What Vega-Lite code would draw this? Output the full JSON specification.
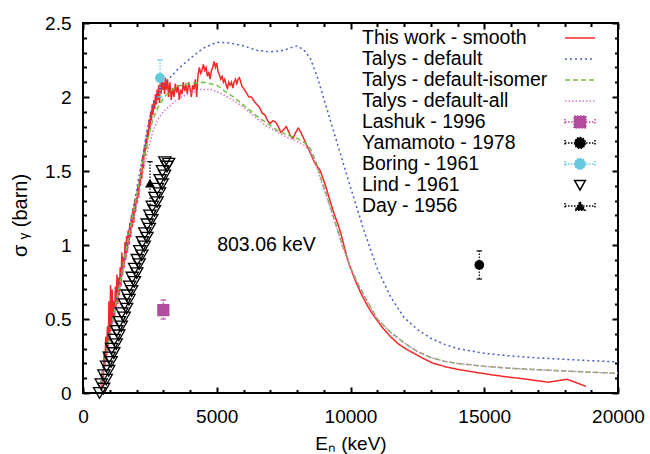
{
  "$schema": "https://vega.github.io/schema/vega-lite/v6.json",
  "width": 535,
  "height": 370,
  "autosize": "none",
  "padding": {"left": 83, "top": 23, "right": 32, "bottom": 61},
  "background": "white",
  "datasets": {
    "curves": [
      {"s":"This work - smooth","x":700,"y":0.02},{"s":"This work - smooth","x":730,"y":0.15},{"s":"This work - smooth","x":760,"y":0.08},{"s":"This work - smooth","x":790,"y":0.28},{"s":"This work - smooth","x":820,"y":0.18},{"s":"This work - smooth","x":850,"y":0.38},{"s":"This work - smooth","x":880,"y":0.22},{"s":"This work - smooth","x":910,"y":0.45},{"s":"This work - smooth","x":940,"y":0.3},{"s":"This work - smooth","x":970,"y":0.62},{"s":"This work - smooth","x":1000,"y":0.35},{"s":"This work - smooth","x":1030,"y":0.73},{"s":"This work - smooth","x":1060,"y":0.42},{"s":"This work - smooth","x":1090,"y":0.7},{"s":"This work - smooth","x":1120,"y":0.48},{"s":"This work - smooth","x":1150,"y":0.62},{"s":"This work - smooth","x":1180,"y":0.5},{"s":"This work - smooth","x":1210,"y":0.72},{"s":"This work - smooth","x":1240,"y":0.58},{"s":"This work - smooth","x":1270,"y":0.8},{"s":"This work - smooth","x":1300,"y":0.6},{"s":"This work - smooth","x":1330,"y":0.78},{"s":"This work - smooth","x":1360,"y":0.66},{"s":"This work - smooth","x":1390,"y":0.85},{"s":"This work - smooth","x":1420,"y":0.72},{"s":"This work - smooth","x":1450,"y":0.95},{"s":"This work - smooth","x":1480,"y":0.8},{"s":"This work - smooth","x":1510,"y":0.92},{"s":"This work - smooth","x":1540,"y":0.85},{"s":"This work - smooth","x":1570,"y":1.02},{"s":"This work - smooth","x":1600,"y":0.9},{"s":"This work - smooth","x":1630,"y":1.06},{"s":"This work - smooth","x":1660,"y":0.95},{"s":"This work - smooth","x":1690,"y":1.1},{"s":"This work - smooth","x":1720,"y":1.0},{"s":"This work - smooth","x":1750,"y":1.15},{"s":"This work - smooth","x":1780,"y":1.05},{"s":"This work - smooth","x":1810,"y":1.2},{"s":"This work - smooth","x":1840,"y":1.12},{"s":"This work - smooth","x":1870,"y":1.25},{"s":"This work - smooth","x":1900,"y":1.15},{"s":"This work - smooth","x":1930,"y":1.3},{"s":"This work - smooth","x":1960,"y":1.22},{"s":"This work - smooth","x":1990,"y":1.32},{"s":"This work - smooth","x":2020,"y":1.28},{"s":"This work - smooth","x":2050,"y":1.4},{"s":"This work - smooth","x":2080,"y":1.32},{"s":"This work - smooth","x":2110,"y":1.45},{"s":"This work - smooth","x":2140,"y":1.4},{"s":"This work - smooth","x":2170,"y":1.52},{"s":"This work - smooth","x":2200,"y":1.45},{"s":"This work - smooth","x":2230,"y":1.6},{"s":"This work - smooth","x":2260,"y":1.52},{"s":"This work - smooth","x":2290,"y":1.66},{"s":"This work - smooth","x":2320,"y":1.6},{"s":"This work - smooth","x":2350,"y":1.72},{"s":"This work - smooth","x":2380,"y":1.65},{"s":"This work - smooth","x":2410,"y":1.78},{"s":"This work - smooth","x":2440,"y":1.72},{"s":"This work - smooth","x":2470,"y":1.85},{"s":"This work - smooth","x":2500,"y":1.78},{"s":"This work - smooth","x":2530,"y":1.9},{"s":"This work - smooth","x":2560,"y":1.84},{"s":"This work - smooth","x":2590,"y":1.95},{"s":"This work - smooth","x":2620,"y":1.88},{"s":"This work - smooth","x":2650,"y":1.98},{"s":"This work - smooth","x":2680,"y":1.92},{"s":"This work - smooth","x":2710,"y":2.02},{"s":"This work - smooth","x":2740,"y":1.95},{"s":"This work - smooth","x":2770,"y":2.05},{"s":"This work - smooth","x":2800,"y":1.98},{"s":"This work - smooth","x":2830,"y":2.08},{"s":"This work - smooth","x":2860,"y":1.96},{"s":"This work - smooth","x":2890,"y":2.1},{"s":"This work - smooth","x":2920,"y":2.02},{"s":"This work - smooth","x":2950,"y":2.12},{"s":"This work - smooth","x":2980,"y":2.05},{"s":"This work - smooth","x":3010,"y":2.1},{"s":"This work - smooth","x":3050,"y":2.02},{"s":"This work - smooth","x":3080,"y":2.13},{"s":"This work - smooth","x":3120,"y":2.05},{"s":"This work - smooth","x":3160,"y":2.12},{"s":"This work - smooth","x":3200,"y":2.0},{"s":"This work - smooth","x":3250,"y":2.1},{"s":"This work - smooth","x":3300,"y":1.98},{"s":"This work - smooth","x":3350,"y":2.06},{"s":"This work - smooth","x":3400,"y":2.0},{"s":"This work - smooth","x":3450,"y":2.09},{"s":"This work - smooth","x":3500,"y":2.03},{"s":"This work - smooth","x":3550,"y":2.08},{"s":"This work - smooth","x":3600,"y":1.98},{"s":"This work - smooth","x":3650,"y":2.05},{"s":"This work - smooth","x":3700,"y":2.02},{"s":"This work - smooth","x":3750,"y":2.1},{"s":"This work - smooth","x":3800,"y":2.04},{"s":"This work - smooth","x":3850,"y":2.08},{"s":"This work - smooth","x":3900,"y":2.02},{"s":"This work - smooth","x":3950,"y":2.1},{"s":"This work - smooth","x":4000,"y":2.06},{"s":"This work - smooth","x":4050,"y":2.0},{"s":"This work - smooth","x":4100,"y":2.08},{"s":"This work - smooth","x":4150,"y":2.05},{"s":"This work - smooth","x":4200,"y":2.12},{"s":"This work - smooth","x":4250,"y":2.0},{"s":"This work - smooth","x":4300,"y":2.15},{"s":"This work - smooth","x":4350,"y":2.2},{"s":"This work - smooth","x":4400,"y":2.16},{"s":"This work - smooth","x":4450,"y":2.18},{"s":"This work - smooth","x":4500,"y":2.22},{"s":"This work - smooth","x":4550,"y":2.18},{"s":"This work - smooth","x":4600,"y":2.2},{"s":"This work - smooth","x":4650,"y":2.14},{"s":"This work - smooth","x":4700,"y":2.17},{"s":"This work - smooth","x":4750,"y":2.12},{"s":"This work - smooth","x":4800,"y":2.18},{"s":"This work - smooth","x":4850,"y":2.2},{"s":"This work - smooth","x":4900,"y":2.24},{"s":"This work - smooth","x":4950,"y":2.2},{"s":"This work - smooth","x":5000,"y":2.23},{"s":"This work - smooth","x":5050,"y":2.17},{"s":"This work - smooth","x":5100,"y":2.15},{"s":"This work - smooth","x":5150,"y":2.12},{"s":"This work - smooth","x":5200,"y":2.14},{"s":"This work - smooth","x":5250,"y":2.1},{"s":"This work - smooth","x":5300,"y":2.12},{"s":"This work - smooth","x":5350,"y":2.08},{"s":"This work - smooth","x":5400,"y":2.06},{"s":"This work - smooth","x":5450,"y":2.1},{"s":"This work - smooth","x":5500,"y":2.08},{"s":"This work - smooth","x":5550,"y":2.1},{"s":"This work - smooth","x":5600,"y":2.06},{"s":"This work - smooth","x":5650,"y":2.1},{"s":"This work - smooth","x":5700,"y":2.12},{"s":"This work - smooth","x":5750,"y":2.09},{"s":"This work - smooth","x":5800,"y":2.12},{"s":"This work - smooth","x":5850,"y":2.13},{"s":"This work - smooth","x":5900,"y":2.1},{"s":"This work - smooth","x":5950,"y":2.07},{"s":"This work - smooth","x":6000,"y":2.06},{"s":"This work - smooth","x":6100,"y":2.03},{"s":"This work - smooth","x":6200,"y":2.0},{"s":"This work - smooth","x":6300,"y":2.0},{"s":"This work - smooth","x":6400,"y":1.97},{"s":"This work - smooth","x":6500,"y":1.95},{"s":"This work - smooth","x":6600,"y":1.93},{"s":"This work - smooth","x":6700,"y":1.89},{"s":"This work - smooth","x":6800,"y":1.88},{"s":"This work - smooth","x":6900,"y":1.84},{"s":"This work - smooth","x":7000,"y":1.82},{"s":"This work - smooth","x":7100,"y":1.84},{"s":"This work - smooth","x":7200,"y":1.83},{"s":"This work - smooth","x":7300,"y":1.8},{"s":"This work - smooth","x":7400,"y":1.76},{"s":"This work - smooth","x":7500,"y":1.78},{"s":"This work - smooth","x":7600,"y":1.8},{"s":"This work - smooth","x":7700,"y":1.76},{"s":"This work - smooth","x":7750,"y":1.74},{"s":"This work - smooth","x":7850,"y":1.72},{"s":"This work - smooth","x":7950,"y":1.76},{"s":"This work - smooth","x":8050,"y":1.79},{"s":"This work - smooth","x":8150,"y":1.76},{"s":"This work - smooth","x":8250,"y":1.72},{"s":"This work - smooth","x":8350,"y":1.68},{"s":"This work - smooth","x":8450,"y":1.64},{"s":"This work - smooth","x":8550,"y":1.6},{"s":"This work - smooth","x":8650,"y":1.56},{"s":"This work - smooth","x":8750,"y":1.53},{"s":"This work - smooth","x":8850,"y":1.51},{"s":"This work - smooth","x":8950,"y":1.46},{"s":"This work - smooth","x":9050,"y":1.41},{"s":"This work - smooth","x":9150,"y":1.35},{"s":"This work - smooth","x":9250,"y":1.29},{"s":"This work - smooth","x":9350,"y":1.23},{"s":"This work - smooth","x":9450,"y":1.18},{"s":"This work - smooth","x":9550,"y":1.13},{"s":"This work - smooth","x":9650,"y":1.07},{"s":"This work - smooth","x":9750,"y":1.0},{"s":"This work - smooth","x":9850,"y":0.93},{"s":"This work - smooth","x":9950,"y":0.87},{"s":"This work - smooth","x":10050,"y":0.82},{"s":"This work - smooth","x":10200,"y":0.75},{"s":"This work - smooth","x":10400,"y":0.67},{"s":"This work - smooth","x":10600,"y":0.6},{"s":"This work - smooth","x":10800,"y":0.54},{"s":"This work - smooth","x":11000,"y":0.49},{"s":"This work - smooth","x":11200,"y":0.44},{"s":"This work - smooth","x":11500,"y":0.38},{"s":"This work - smooth","x":11800,"y":0.33},{"s":"This work - smooth","x":12100,"y":0.295},{"s":"This work - smooth","x":12400,"y":0.265},{"s":"This work - smooth","x":12700,"y":0.235},{"s":"This work - smooth","x":13100,"y":0.2},{"s":"This work - smooth","x":13600,"y":0.175},{"s":"This work - smooth","x":14000,"y":0.16},{"s":"This work - smooth","x":14600,"y":0.142},{"s":"This work - smooth","x":15200,"y":0.125},{"s":"This work - smooth","x":15800,"y":0.11},{"s":"This work - smooth","x":16500,"y":0.095},{"s":"This work - smooth","x":17400,"y":0.073},{"s":"This work - smooth","x":18100,"y":0.093},{"s":"This work - smooth","x":18800,"y":0.045},
      {"s":"Talys - default","x":650,"y":0.07},{"s":"Talys - default","x":800,"y":0.22},{"s":"Talys - default","x":1000,"y":0.4},{"s":"Talys - default","x":1250,"y":0.64},{"s":"Talys - default","x":1500,"y":0.88},{"s":"Talys - default","x":1750,"y":1.12},{"s":"Talys - default","x":2000,"y":1.37},{"s":"Talys - default","x":2200,"y":1.57},{"s":"Talys - default","x":2400,"y":1.78},{"s":"Talys - default","x":2600,"y":1.94},{"s":"Talys - default","x":2800,"y":2.03},{"s":"Talys - default","x":3000,"y":2.08},{"s":"Talys - default","x":3250,"y":2.13},{"s":"Talys - default","x":3500,"y":2.18},{"s":"Talys - default","x":4000,"y":2.26},{"s":"Talys - default","x":4500,"y":2.33},{"s":"Talys - default","x":5000,"y":2.37},{"s":"Talys - default","x":5500,"y":2.365},{"s":"Talys - default","x":6000,"y":2.345},{"s":"Talys - default","x":6500,"y":2.315},{"s":"Talys - default","x":7000,"y":2.305},{"s":"Talys - default","x":7500,"y":2.315},{"s":"Talys - default","x":7800,"y":2.335},{"s":"Talys - default","x":8000,"y":2.345},{"s":"Talys - default","x":8250,"y":2.32},{"s":"Talys - default","x":8500,"y":2.26},{"s":"Talys - default","x":8750,"y":2.14},{"s":"Talys - default","x":9000,"y":1.99},{"s":"Talys - default","x":9250,"y":1.84},{"s":"Talys - default","x":9500,"y":1.69},{"s":"Talys - default","x":9750,"y":1.54},{"s":"Talys - default","x":10000,"y":1.39},{"s":"Talys - default","x":10500,"y":1.1},{"s":"Talys - default","x":11000,"y":0.84},{"s":"Talys - default","x":11500,"y":0.65},{"s":"Talys - default","x":12000,"y":0.51},{"s":"Talys - default","x":12500,"y":0.43},{"s":"Talys - default","x":13000,"y":0.37},{"s":"Talys - default","x":13500,"y":0.33},{"s":"Talys - default","x":14000,"y":0.3},{"s":"Talys - default","x":15000,"y":0.268},{"s":"Talys - default","x":16000,"y":0.25},{"s":"Talys - default","x":17000,"y":0.237},{"s":"Talys - default","x":18000,"y":0.228},{"s":"Talys - default","x":19000,"y":0.218},{"s":"Talys - default","x":20000,"y":0.21},
      {"s":"Talys - default-isomer","x":650,"y":0.06},{"s":"Talys - default-isomer","x":800,"y":0.2},{"s":"Talys - default-isomer","x":1000,"y":0.39},{"s":"Talys - default-isomer","x":1250,"y":0.62},{"s":"Talys - default-isomer","x":1500,"y":0.86},{"s":"Talys - default-isomer","x":1750,"y":1.1},{"s":"Talys - default-isomer","x":2000,"y":1.33},{"s":"Talys - default-isomer","x":2200,"y":1.52},{"s":"Talys - default-isomer","x":2400,"y":1.7},{"s":"Talys - default-isomer","x":2600,"y":1.84},{"s":"Talys - default-isomer","x":2800,"y":1.93},{"s":"Talys - default-isomer","x":3000,"y":1.99},{"s":"Talys - default-isomer","x":3250,"y":2.04},{"s":"Talys - default-isomer","x":3500,"y":2.07},{"s":"Talys - default-isomer","x":3900,"y":2.09},{"s":"Talys - default-isomer","x":4500,"y":2.1},{"s":"Talys - default-isomer","x":5000,"y":2.08},{"s":"Talys - default-isomer","x":5300,"y":2.04},{"s":"Talys - default-isomer","x":5700,"y":1.99},{"s":"Talys - default-isomer","x":6100,"y":1.93},{"s":"Talys - default-isomer","x":6500,"y":1.87},{"s":"Talys - default-isomer","x":6900,"y":1.82},{"s":"Talys - default-isomer","x":7300,"y":1.77},{"s":"Talys - default-isomer","x":7700,"y":1.74},{"s":"Talys - default-isomer","x":8000,"y":1.72},{"s":"Talys - default-isomer","x":8300,"y":1.69},{"s":"Talys - default-isomer","x":8500,"y":1.65},{"s":"Talys - default-isomer","x":8700,"y":1.57},{"s":"Talys - default-isomer","x":8900,"y":1.45},{"s":"Talys - default-isomer","x":9100,"y":1.34},{"s":"Talys - default-isomer","x":9400,"y":1.17},{"s":"Talys - default-isomer","x":9700,"y":1.0},{"s":"Talys - default-isomer","x":10000,"y":0.85},{"s":"Talys - default-isomer","x":10300,"y":0.73},{"s":"Talys - default-isomer","x":10600,"y":0.63},{"s":"Talys - default-isomer","x":11000,"y":0.5},{"s":"Talys - default-isomer","x":11500,"y":0.41},{"s":"Talys - default-isomer","x":12000,"y":0.34},{"s":"Talys - default-isomer","x":12500,"y":0.28},{"s":"Talys - default-isomer","x":13000,"y":0.24},{"s":"Talys - default-isomer","x":13500,"y":0.215},{"s":"Talys - default-isomer","x":14000,"y":0.2},{"s":"Talys - default-isomer","x":15000,"y":0.18},{"s":"Talys - default-isomer","x":16000,"y":0.167},{"s":"Talys - default-isomer","x":17000,"y":0.157},{"s":"Talys - default-isomer","x":18000,"y":0.149},{"s":"Talys - default-isomer","x":19000,"y":0.14},{"s":"Talys - default-isomer","x":20000,"y":0.133},
      {"s":"Talys - default-all","x":650,"y":0.05},{"s":"Talys - default-all","x":800,"y":0.18},{"s":"Talys - default-all","x":1000,"y":0.36},{"s":"Talys - default-all","x":1250,"y":0.59},{"s":"Talys - default-all","x":1500,"y":0.82},{"s":"Talys - default-all","x":1750,"y":1.05},{"s":"Talys - default-all","x":2000,"y":1.27},{"s":"Talys - default-all","x":2200,"y":1.45},{"s":"Talys - default-all","x":2400,"y":1.62},{"s":"Talys - default-all","x":2600,"y":1.76},{"s":"Talys - default-all","x":2800,"y":1.85},{"s":"Talys - default-all","x":3000,"y":1.9},{"s":"Talys - default-all","x":3250,"y":1.94},{"s":"Talys - default-all","x":3500,"y":1.98},{"s":"Talys - default-all","x":3900,"y":2.02},{"s":"Talys - default-all","x":4400,"y":2.05},{"s":"Talys - default-all","x":4800,"y":2.05},{"s":"Talys - default-all","x":5200,"y":2.02},{"s":"Talys - default-all","x":5600,"y":1.98},{"s":"Talys - default-all","x":6000,"y":1.93},{"s":"Talys - default-all","x":6400,"y":1.87},{"s":"Talys - default-all","x":6800,"y":1.81},{"s":"Talys - default-all","x":7200,"y":1.77},{"s":"Talys - default-all","x":7600,"y":1.73},{"s":"Talys - default-all","x":8000,"y":1.7},{"s":"Talys - default-all","x":8300,"y":1.67},{"s":"Talys - default-all","x":8500,"y":1.63},{"s":"Talys - default-all","x":8700,"y":1.55},{"s":"Talys - default-all","x":8900,"y":1.43},{"s":"Talys - default-all","x":9100,"y":1.33},{"s":"Talys - default-all","x":9400,"y":1.16},{"s":"Talys - default-all","x":9700,"y":0.99},{"s":"Talys - default-all","x":10000,"y":0.84},{"s":"Talys - default-all","x":10300,"y":0.725},{"s":"Talys - default-all","x":10600,"y":0.625},{"s":"Talys - default-all","x":11000,"y":0.5},{"s":"Talys - default-all","x":11500,"y":0.41},{"s":"Talys - default-all","x":12000,"y":0.34},{"s":"Talys - default-all","x":12500,"y":0.28},{"s":"Talys - default-all","x":13000,"y":0.24},{"s":"Talys - default-all","x":13500,"y":0.215},{"s":"Talys - default-all","x":14000,"y":0.2},{"s":"Talys - default-all","x":15000,"y":0.18},{"s":"Talys - default-all","x":16000,"y":0.167},{"s":"Talys - default-all","x":17000,"y":0.157},{"s":"Talys - default-all","x":18000,"y":0.149},{"s":"Talys - default-all","x":19000,"y":0.14},{"s":"Talys - default-all","x":20000,"y":0.133}
    ],
    "exp": [
      {"s":"Lashuk - 1996","x":3003,"y":0.56,"lo":0.5,"hi":0.628},
      {"s":"Yamamoto - 1978","x":14815,"y":0.865,"lo":0.77,"hi":0.96},
      {"s":"Boring - 1961","x":2879,"y":2.128,"lo":2.0,"hi":2.25},
      {"s":"Day - 1956","x":2505,"y":1.417,"lo":1.27,"hi":1.563}
    ],
    "lind": [
      {"x":620,"y":0.0},{"x":770,"y":0.03},{"x":680,"y":0.06},{"x":870,"y":0.09},{"x":780,"y":0.12},{"x":960,"y":0.15},{"x":880,"y":0.18},{"x":1050,"y":0.21},{"x":980,"y":0.24},{"x":1150,"y":0.27},{"x":1070,"y":0.3},{"x":1240,"y":0.33},{"x":1170,"y":0.36},{"x":1340,"y":0.39},{"x":1260,"y":0.42},{"x":1430,"y":0.45},{"x":1360,"y":0.48},{"x":1540,"y":0.51},{"x":1450,"y":0.54},{"x":1630,"y":0.57},{"x":1550,"y":0.6},{"x":1720,"y":0.63},{"x":1650,"y":0.66},{"x":1820,"y":0.69},{"x":1740,"y":0.72},{"x":1920,"y":0.75},{"x":1840,"y":0.78},{"x":2010,"y":0.81},{"x":1930,"y":0.84},{"x":2100,"y":0.87},{"x":2030,"y":0.9},{"x":2200,"y":0.93},{"x":2120,"y":0.96},{"x":2290,"y":0.99},{"x":2220,"y":1.02},{"x":2390,"y":1.05},{"x":2310,"y":1.08},{"x":2480,"y":1.11},{"x":2400,"y":1.14},{"x":2570,"y":1.17},{"x":2500,"y":1.2},{"x":2670,"y":1.23},{"x":2590,"y":1.26},{"x":2770,"y":1.29},{"x":2690,"y":1.32},{"x":2860,"y":1.35},{"x":2780,"y":1.38},{"x":2960,"y":1.41},{"x":2880,"y":1.44},{"x":3050,"y":1.47},{"x":2970,"y":1.5},{"x":3140,"y":1.53},{"x":3060,"y":1.56},{"x":3200,"y":1.55}
    ],
    "note": [{"x":6860,"y":1.0,"text":"803.06 keV"}]
  },
  "resolve": {"axis": {"x": "independent", "y": "independent"}},
  "layer": [
    {
      "data": {"name": "curves"},
      "mark": {"type": "line", "strokeWidth": 1.5, "clip": true},
      "encoding": {
        "x": {"field": "x", "type": "quantitative", "scale": {"domain": [0, 20000], "nice": false},
          "axis": {"orient": "bottom", "values": [0, 5000, 10000, 15000, 20000], "format": "d", "tickSize": -6, "labelPadding": 20.5, "title": "Eₙ (keV)", "titleBaseline": "alphabetic", "titleY": 56}},
        "y": {"field": "y", "type": "quantitative", "scale": {"domain": [0, 2.5], "nice": false},
          "axis": {"orient": "left", "values": [0, 0.5, 1, 1.5, 2, 2.5], "format": "~g", "tickSize": -6, "labelPadding": 18, "title": "σ ᵧ (barn)", "titleFontSize": 20, "titleBaseline": "alphabetic", "titleX": -57, "titleY": 192}},
        "color": {"field": "s", "type": "nominal",
          "scale": {"domain": ["This work - smooth","Talys - default","Talys - default-isomer","Talys - default-all","Lashuk - 1996","Yamamoto - 1978","Boring - 1961","Lind - 1961","Day - 1956"],
                    "range": ["#f42828","#4a5fc1","#72c044","#d47acc","#b24c9c","#000000","#66c8dc","#000000","#000000"]},
          "legend": {
            "orient": "none", "legendX": 279, "legendY": 5, "direction": "vertical", "title": null,
            "clipHeight": 19.9, "rowPadding": 0, "padding": 0,
            "labelFontSize": 19.5, "labelColor": "#000", "labelLimit": 400, "symbolSize": 100,
            "encode": {
              "entries": {"update": {"width": {"value": 300}}},
              "labels": {"update": {"x": {"value": 0}}},
              "symbols": {"update": {
                "x": {"value": 218},
                "size": {"value": 900},
                "strokeWidth": {"value": 1.5},
                "opacity": {"value": 1},
                "shape": {"signal": "datum.value === 'Lashuk - 1996' ? 'M-1,-0.2L-1,0.2M-1,0L1,0M1,-0.2L1,0.2M-0.4,-0.4L0.4,-0.4L0.4,0.4L-0.4,0.4Z' : (datum.value === 'Yamamoto - 1978' || datum.value === 'Boring - 1961') ? 'M-1,-0.2L-1,0.2M-1,0L1,0M1,-0.2L1,0.2M-0.36,0A0.36,0.36,0,1,0,0.36,0A0.36,0.36,0,1,0,-0.36,0Z' : datum.value === 'Lind - 1961' ? 'M-0.36,-0.3L0.36,-0.3L0,0.34Z' : datum.value === 'Day - 1956' ? 'M-1,-0.2L-1,0.2M-1,0L1,0M1,-0.2L1,0.2M-0.33,0.28L0.33,0.28L0,-0.3Z' : 'stroke'"},
                "stroke": {"signal": "scale('color', datum.value)"},
                "fill": {"signal": "indexof(['Lashuk - 1996','Yamamoto - 1978','Boring - 1961','Day - 1956'], datum.value) >= 0 ? scale('color', datum.value) : 'transparent'"},
                "strokeDash": {"signal": "datum.value === 'Talys - default' ? [2,3] : datum.value === 'Talys - default-isomer' ? [5,3] : datum.value === 'Talys - default-all' ? [1.5,2] : indexof(['Lashuk - 1996','Yamamoto - 1978','Boring - 1961','Day - 1956'], datum.value) >= 0 ? [1.5,1.5] : [1,0]"}
              }}
            }
          }},
        "strokeDash": {"field": "s", "type": "nominal",
          "scale": {"domain": ["This work - smooth","Talys - default","Talys - default-isomer","Talys - default-all"], "range": [[1,0],[2,3],[5,3],[1.5,2]]},
          "legend": null}
      }
    },
    {
      "data": {"name": "exp"},
      "mark": {"type": "rule", "strokeDash": [1.5, 1.5], "strokeWidth": 1.2},
      "encoding": {
        "x": {"field": "x", "type": "quantitative", "scale": {"domain": [0, 20000], "nice": false},
          "axis": {"orient": "bottom", "values": [1000,2000,3000,4000,6000,7000,8000,9000,11000,12000,13000,14000,16000,17000,18000,19000], "tickSize": -3.5, "labels": false, "title": null}},
        "y": {"field": "lo", "type": "quantitative", "scale": {"domain": [0, 2.5], "nice": false},
          "axis": {"orient": "left", "values": [0.1,0.2,0.3,0.4,0.6,0.7,0.8,0.9,1.1,1.2,1.3,1.4,1.6,1.7,1.8,1.9,2.1,2.2,2.3,2.4], "tickSize": -3.5, "labels": false, "title": null}},
        "y2": {"field": "hi"},
        "color": {"field": "s", "type": "nominal", "legend": null}
      }
    },
    {
      "data": {"name": "exp"},
      "mark": {"type": "point", "shape": "stroke", "size": 30, "strokeWidth": 1.2, "opacity": 1},
      "encoding": {
        "x": {"field": "x", "type": "quantitative", "scale": {"domain": [0, 20000], "nice": false},
          "axis": {"orient": "top", "values": [0, 5000, 10000, 15000, 20000], "tickSize": -6, "labels": false, "title": null}},
        "y": {"field": "lo", "type": "quantitative", "scale": {"domain": [0, 2.5], "nice": false},
          "axis": {"orient": "right", "values": [0, 0.5, 1, 1.5, 2, 2.5], "tickSize": -6, "labels": false, "title": null}},
        "color": {"field": "s", "type": "nominal", "legend": null}
      }
    },
    {
      "data": {"name": "exp"},
      "mark": {"type": "point", "shape": "stroke", "size": 30, "strokeWidth": 1.2, "opacity": 1},
      "encoding": {
        "x": {"field": "x", "type": "quantitative", "scale": {"domain": [0, 20000], "nice": false},
          "axis": {"orient": "top", "values": [1000,2000,3000,4000,6000,7000,8000,9000,11000,12000,13000,14000,16000,17000,18000,19000], "tickSize": -3.5, "labels": false, "title": null}},
        "y": {"field": "hi", "type": "quantitative", "scale": {"domain": [0, 2.5], "nice": false},
          "axis": {"orient": "right", "values": [0.1,0.2,0.3,0.4,0.6,0.7,0.8,0.9,1.1,1.2,1.3,1.4,1.6,1.7,1.8,1.9,2.1,2.2,2.3,2.4], "tickSize": -3.5, "labels": false, "title": null}},
        "color": {"field": "s", "type": "nominal", "legend": null}
      }
    },
    {
      "data": {"name": "lind"},
      "mark": {"type": "point", "shape": "triangle-down", "size": 150, "filled": false, "stroke": "#000", "strokeWidth": 1.3, "opacity": 1},
      "encoding": {
        "x": {"field": "x", "type": "quantitative", "axis": null},
        "y": {"field": "y", "type": "quantitative", "axis": null}
      }
    },
    {
      "data": {"name": "exp"},
      "transform": [{"filter": "datum.s === 'Lashuk - 1996'"}],
      "mark": {"type": "point", "shape": "square", "size": 150, "filled": true, "color": "#b24c9c", "opacity": 1},
      "encoding": {
        "x": {"field": "x", "type": "quantitative", "axis": null},
        "y": {"field": "y", "type": "quantitative", "axis": null}
      }
    },
    {
      "data": {"name": "exp"},
      "transform": [{"filter": "datum.s === 'Yamamoto - 1978'"}],
      "mark": {"type": "point", "shape": "circle", "size": 95, "filled": true, "color": "#000", "opacity": 1},
      "encoding": {
        "x": {"field": "x", "type": "quantitative", "axis": null},
        "y": {"field": "y", "type": "quantitative", "axis": null}
      }
    },
    {
      "data": {"name": "exp"},
      "transform": [{"filter": "datum.s === 'Boring - 1961'"}],
      "mark": {"type": "point", "shape": "circle", "size": 100, "filled": true, "color": "#66c8dc", "opacity": 1},
      "encoding": {
        "x": {"field": "x", "type": "quantitative", "axis": null},
        "y": {"field": "y", "type": "quantitative", "axis": null}
      }
    },
    {
      "data": {"name": "exp"},
      "transform": [{"filter": "datum.s === 'Day - 1956'"}],
      "mark": {"type": "point", "shape": "triangle-up", "size": 100, "filled": true, "color": "#000", "opacity": 1},
      "encoding": {
        "x": {"field": "x", "type": "quantitative", "axis": null},
        "y": {"field": "y", "type": "quantitative", "axis": null}
      }
    },
    {
      "data": {"name": "note"},
      "mark": {"type": "text", "fontSize": 19.5, "color": "#000", "align": "center", "baseline": "middle"},
      "encoding": {
        "x": {"field": "x", "type": "quantitative", "axis": null},
        "y": {"field": "y", "type": "quantitative", "axis": null},
        "text": {"field": "text"}
      }
    }
  ],
  "config": {
    "font": "Liberation Sans",
    "view": {"stroke": "#000", "strokeWidth": 2},
    "axis": {"grid": false, "domain": false, "labelFontSize": 19, "labelColor": "#000", "labelFlush": false, "tickColor": "#000", "tickWidth": 2, "titleFontSize": 19, "titleFontWeight": "normal", "titleColor": "#000"},
    "legend": {"labelFont": "Liberation Sans"}
  }
}
